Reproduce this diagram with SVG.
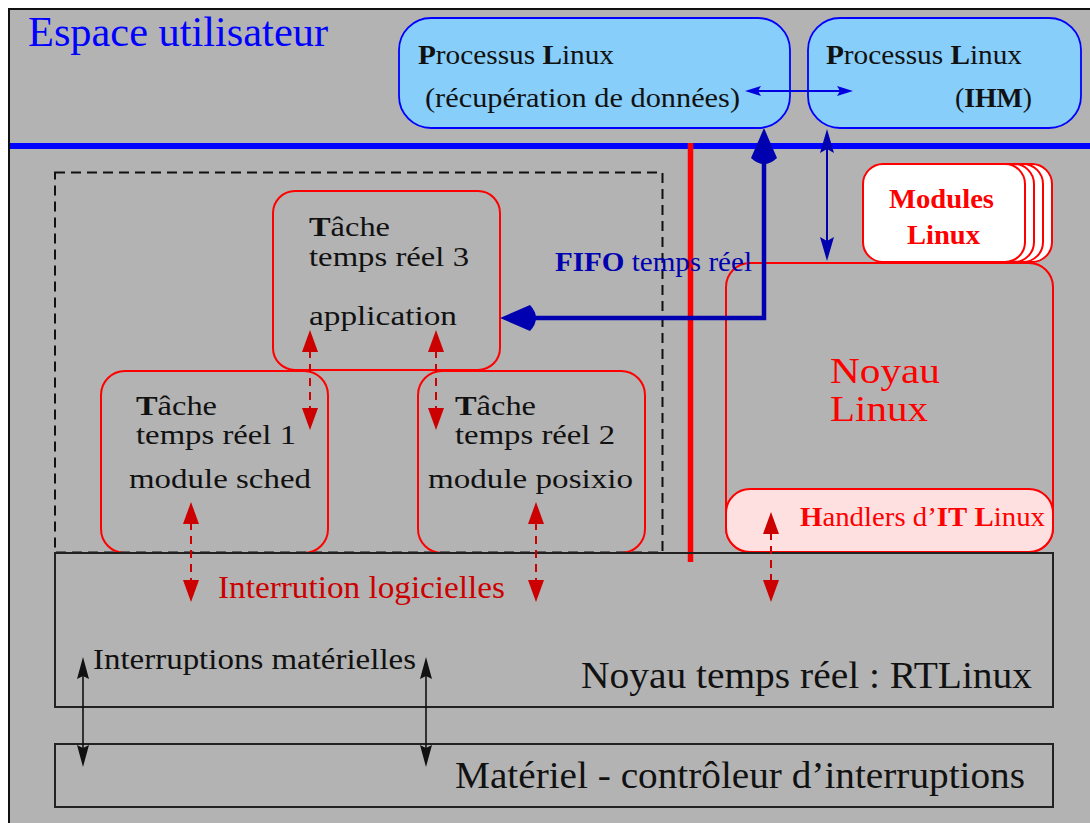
<svg xmlns="http://www.w3.org/2000/svg" width="1090" height="823" viewBox="0 0 1090 823">
<defs>
<style>
text{font-family:"Liberation Serif","Times New Roman",serif;}
.blk{fill:#111;}
.rbox{fill:none;stroke:#ff0000;stroke-width:2;}
.pbox{fill:#87cefa;stroke:#0000ff;stroke-width:1.8;}
.frame{fill:none;stroke:#222;stroke-width:2;}
.rdash{stroke:#cc0000;stroke-width:2;stroke-dasharray:8 6;fill:none;}
.rhead{fill:#cc0000;}
.bhead{fill:#0000b0;}
.khead{fill:#111;}
.t30{font-size:28px;}
</style>
</defs>
<rect x="0" y="0" width="1090" height="823" fill="#ffffff"/>
<rect x="9" y="9" width="1081" height="814" fill="#b3b3b3"/>
<path d="M9,823 V9 H1090" fill="none" stroke="#111" stroke-width="2"/>

<g id="espace-utilisateur">
<text x="28" y="46" font-size="42" fill="#0000ff" textLength="300" lengthAdjust="spacingAndGlyphs">Espace utilisateur</text>
</g>

<line x1="10" y1="146" x2="1090" y2="146" stroke="#0000ff" stroke-width="6"/>
<line x1="690.5" y1="143" x2="690.5" y2="562" stroke="#ff0000" stroke-width="5.5"/>

<g id="zone-temps-reel">
<rect x="55" y="172.5" width="607.5" height="380" fill="none" stroke="#111" stroke-width="2" stroke-dasharray="10 6"/>
</g>

<g id="processus-recuperation">
<rect class="pbox" x="399" y="18" width="391" height="110" rx="32" ry="32"/>
<text x="418" y="64" font-size="28" class="blk" textLength="196" lengthAdjust="spacingAndGlyphs"><tspan font-weight="bold">P</tspan>rocessus <tspan font-weight="bold">L</tspan>inux</text>
<text x="425" y="107" font-size="28" class="blk" textLength="315" lengthAdjust="spacingAndGlyphs">(récupération de données)</text>
</g>

<g id="processus-ihm">
<rect class="pbox" x="808" y="18" width="273" height="110" rx="32" ry="32"/>
<text x="826" y="64" font-size="28" class="blk" textLength="196" lengthAdjust="spacingAndGlyphs"><tspan font-weight="bold">P</tspan>rocessus <tspan font-weight="bold">L</tspan>inux</text>
<text x="955" y="107" font-size="28" class="blk" textLength="77" lengthAdjust="spacingAndGlyphs">(<tspan font-weight="bold">IHM</tspan>)</text>
</g>

<g id="tache-3">
<rect class="rbox" x="273" y="191" width="227" height="179" rx="22" ry="22"/>
<text x="309" y="236" class="t30 blk" textLength="81" lengthAdjust="spacingAndGlyphs"><tspan font-weight="bold">T</tspan>âche</text>
<text x="309" y="266" class="t30 blk" textLength="160" lengthAdjust="spacingAndGlyphs">temps réel 3</text>
<text x="309" y="325" class="t30 blk" textLength="148" lengthAdjust="spacingAndGlyphs">application</text>
</g>

<g id="tache-1">
<rect class="rbox" x="101" y="371" width="227" height="182" rx="24" ry="24"/>
<text x="136" y="415" class="t30 blk" textLength="81" lengthAdjust="spacingAndGlyphs"><tspan font-weight="bold">T</tspan>âche</text>
<text x="136" y="444" class="t30 blk" textLength="160" lengthAdjust="spacingAndGlyphs">temps réel 1</text>
<text x="129" y="488" class="t30 blk" textLength="182" lengthAdjust="spacingAndGlyphs">module sched</text>
</g>

<g id="tache-2">
<rect class="rbox" x="418" y="371" width="227" height="182" rx="24" ry="24"/>
<text x="455" y="415" class="t30 blk" textLength="81" lengthAdjust="spacingAndGlyphs"><tspan font-weight="bold">T</tspan>âche</text>
<text x="455" y="444" class="t30 blk" textLength="160" lengthAdjust="spacingAndGlyphs">temps réel 2</text>
<text x="428" y="488" class="t30 blk" textLength="205" lengthAdjust="spacingAndGlyphs">module posixio</text>
</g>

<g id="modules-linux">
<rect x="890" y="164" width="162" height="98" rx="20" ry="20" fill="#ffffff" stroke="#ff0000" stroke-width="2"/>
<rect x="881" y="164" width="162" height="98" rx="20" ry="20" fill="#ffffff" stroke="#ff0000" stroke-width="2"/>
<rect x="872" y="164" width="162" height="98" rx="20" ry="20" fill="#ffffff" stroke="#ff0000" stroke-width="2"/>
<rect x="863" y="164" width="162" height="98" rx="20" ry="20" fill="#ffffff" stroke="#ff0000" stroke-width="2"/>
<text x="889" y="208" font-size="27" font-weight="bold" fill="#ff0000" textLength="105" lengthAdjust="spacingAndGlyphs">Modules</text>
<text x="907" y="244" font-size="27" font-weight="bold" fill="#ff0000" textLength="73" lengthAdjust="spacingAndGlyphs">Linux</text>
</g>

<g id="noyau-linux">
<rect class="rbox" x="726" y="263" width="327" height="289" rx="24" ry="24"/>
<text x="830" y="383" font-size="36" fill="#ff0000" textLength="110" lengthAdjust="spacingAndGlyphs">Noyau</text>
<text x="830" y="421" font-size="36" fill="#ff0000" textLength="98" lengthAdjust="spacingAndGlyphs">Linux</text>
</g>

<g id="handlers-it-linux">
<rect x="726" y="489" width="327" height="63" rx="24" ry="24" fill="#ffe0e0" stroke="#ff0000" stroke-width="2"/>
<text x="800" y="526" font-size="27" fill="#ff0000" textLength="245" lengthAdjust="spacingAndGlyphs"><tspan font-weight="bold">H</tspan>andlers d’<tspan font-weight="bold">IT</tspan> <tspan font-weight="bold">L</tspan>inux</text>
</g>

<g id="noyau-rtlinux">
<rect class="frame" x="55" y="553" width="998" height="154"/>
<text x="581" y="688" font-size="38" class="blk" textLength="451" lengthAdjust="spacingAndGlyphs">Noyau temps réel : RTLinux</text>
</g>

<g id="materiel">
<rect class="frame" x="55" y="744" width="998" height="63"/>
<text x="455" y="788" font-size="37" class="blk" textLength="570" lengthAdjust="spacingAndGlyphs">Matériel - contrôleur d’interruptions</text>
</g>

<g id="connecteurs">
<line x1="752" y1="91" x2="846" y2="91" stroke="#0000e0" stroke-width="1.8"/>
<path d="M745,91 L761,86 L758,91 L761,96 Z" fill="#0000e0"/>
<path d="M853,91 L837,86 L840,91 L837,96 Z" fill="#0000e0"/>

<path d="M764,158 V318 H535" fill="none" stroke="#0000b0" stroke-width="4.5"/>
<path d="M764,128 L777,158 Q764,170 751,158 Z" class="bhead"/>
<path d="M500,318 L530,305 Q542,318 530,331 Z" class="bhead"/>
<text x="555" y="271" font-size="28" fill="#0000b0" textLength="197" lengthAdjust="spacingAndGlyphs"><tspan font-weight="bold">FIFO</tspan> temps réel</text>

<line x1="827" y1="145" x2="827" y2="245" stroke="#0000b0" stroke-width="2"/>
<path d="M827,129 L834,153 L827,149 L820,153 Z" class="bhead"/>
<path d="M827,261 L834,237 L827,241 L820,237 Z" class="bhead"/>

<line class="rdash" x1="310" y1="350" x2="310" y2="410"/>
<path class="rhead" d="M310,330 L318,352 L302,352 Z"/>
<path class="rhead" d="M310,430 L318,408 L302,408 Z"/>
<line class="rdash" x1="436" y1="350" x2="436" y2="410"/>
<path class="rhead" d="M436,330 L444,352 L428,352 Z"/>
<path class="rhead" d="M436,430 L444,408 L428,408 Z"/>
<line class="rdash" x1="191" y1="522" x2="191" y2="582"/>
<path class="rhead" d="M191,502 L199,524 L183,524 Z"/>
<path class="rhead" d="M191,602 L199,580 L183,580 Z"/>
<line class="rdash" x1="536" y1="522" x2="536" y2="582"/>
<path class="rhead" d="M536,502 L544,524 L528,524 Z"/>
<path class="rhead" d="M536,602 L544,580 L528,580 Z"/>
<line class="rdash" x1="771" y1="532" x2="771" y2="582"/>
<path class="rhead" d="M771,512 L779,534 L763,534 Z"/>
<path class="rhead" d="M771,602 L779,580 L763,580 Z"/>
<text x="218" y="598" font-size="31" fill="#cc0000" textLength="287" lengthAdjust="spacingAndGlyphs">Interrution logicielles</text>

<line x1="83" y1="672" x2="83" y2="752" stroke="#111" stroke-width="1.6"/>
<path class="khead" d="M83,657 L89,679 L83,676 L77,679 Z"/>
<path class="khead" d="M83,767 L89,745 L83,748 L77,745 Z"/>
<line x1="426" y1="672" x2="426" y2="752" stroke="#111" stroke-width="1.6"/>
<path class="khead" d="M426,657 L432,679 L426,676 L420,679 Z"/>
<path class="khead" d="M426,767 L432,745 L426,748 L420,745 Z"/>
<text x="93" y="669" font-size="30" class="blk" textLength="323" lengthAdjust="spacingAndGlyphs">Interruptions matérielles</text>
</g>
</svg>
